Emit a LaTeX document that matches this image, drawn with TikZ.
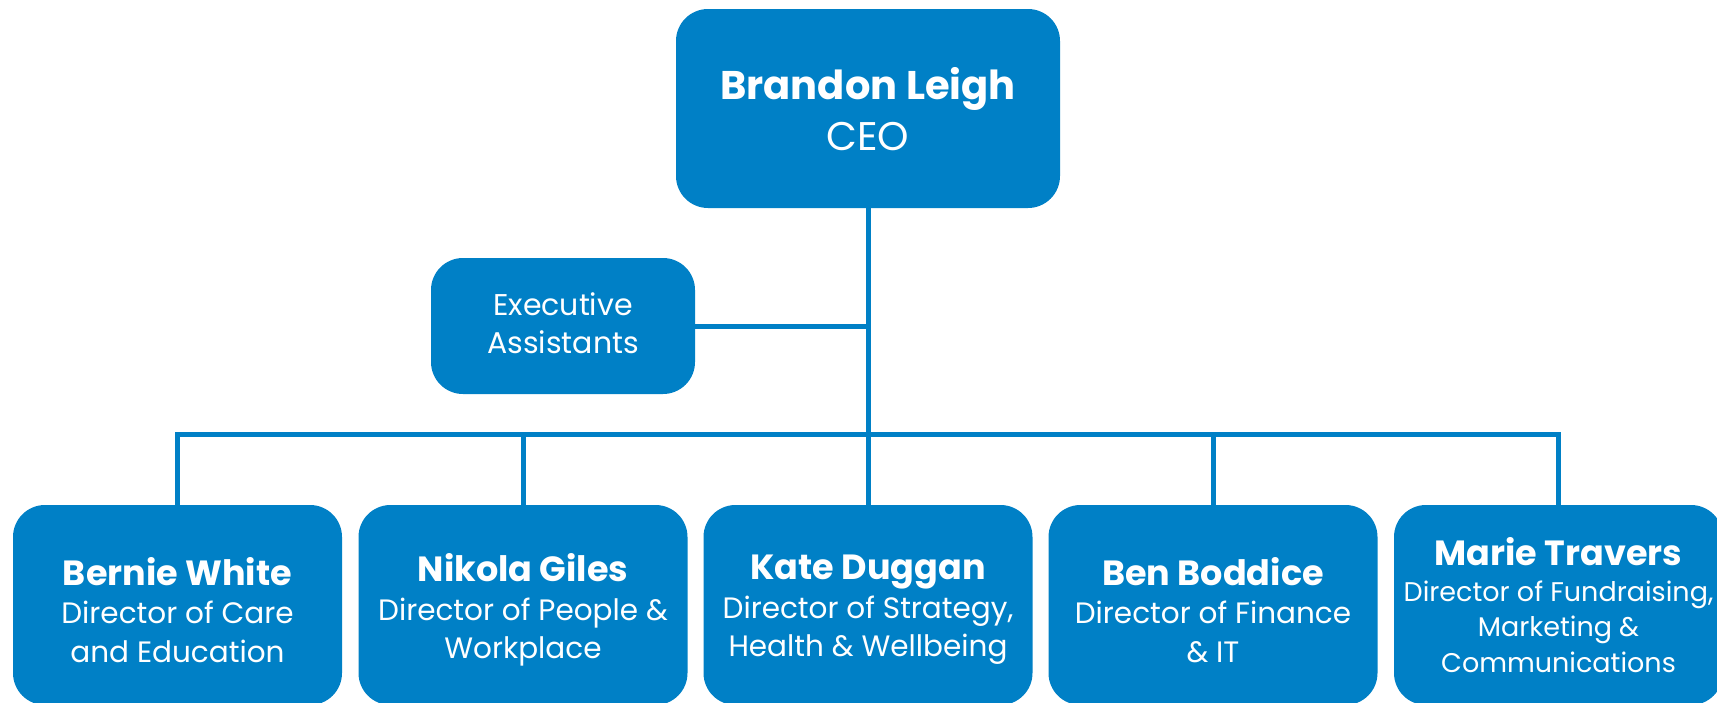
\documentclass[tikz,border=0pt]{standalone}
\usepackage{fontspec}
\setmainfont{Poppins}
\definecolor{orgblue}{RGB}{0,128,198}
\tikzset{
  box/.style={rectangle, rounded corners=32pt, fill=orgblue, inner sep=0pt},
  txt/.style={text=white, align=center, inner sep=0pt},
  dirbox/.style={box, minimum width=329pt, minimum height=200pt},
  dirtxt/.style={txt, font=\fontsize{29.5}{38.5}\selectfont},
  link/.style={draw=orgblue, line width=5pt},
}
\newcommand{\nm}[1]{{\bfseries\fontsize{35}{38.5}\selectfont #1}}
\begin{document}
\begin{tikzpicture}[x=1pt,y=-1pt]
\clip (0,0) rectangle (1717,702);
\fill[white] (0,0) rectangle (1717,702);
\node[box, minimum width=384pt, minimum height=199pt] (ceo) at (868,108.5) {};
\node[txt, font=\fontsize{40}{51}\selectfont] (ceot) at ([yshift=-1pt]ceo.center)
  {{\bfseries Brandon Leigh}\\CEO};
\node[box, minimum width=264pt, minimum height=136pt] (exec) at (563,326) {};
\node[txt, font=\fontsize{30}{38}\selectfont] (exect) at ([yshift=3pt]exec.center) {Executive\\Assistants};
\node[dirbox] (b1) at (177.5,605) {};
\node[dirbox] (b2) at (523,605) {};
\node[dirbox] (b3) at (868,605) {};
\node[dirbox] (b4) at (1213,605) {};
\node[dirbox] (b5) at (1558.5,605) {};
\node[dirtxt] (t1) at ([yshift=-5pt]b1.center) {\nm{Bernie White}\\Director of Care\\and Education};
\node[dirtxt] (t2) at ([yshift=-5pt]b2.center) {\nm{Nikola Giles}\\Director of People \&\\Workplace};
\node[dirtxt] (t3) at ([yshift=-5pt]b3.center) {\nm{Kate Duggan}\\Director of Strategy,\\Health \& Wellbeing};
\node[dirtxt] (t4) at ([yshift=-5pt]b4.center) {\nm{Ben Boddice}\\Director of Finance\\\& IT};
\node[dirtxt, font=\fontsize{27}{35.5}\selectfont] (t5) at (b5.center) {\nm{Marie Travers}\\Director of Fundraising,\\Marketing \&\\Communications};
\coordinate (bus) at (868,434);
\draw[link] (ceo.south) -- (ceo.south |- bus);
\draw[link] (exec.east) -- (exec.east -| ceo.south);
\draw[link] (b1.north) -- (b1.north |- bus) -- (b5.north |- bus) -- (b5.north);
\draw[link] (b2.north) -- (b2.north |- bus);
\draw[link] (b3.north) -- (b3.north |- bus);
\draw[link] (b4.north) -- (b4.north |- bus);
\end{tikzpicture}
\end{document}
